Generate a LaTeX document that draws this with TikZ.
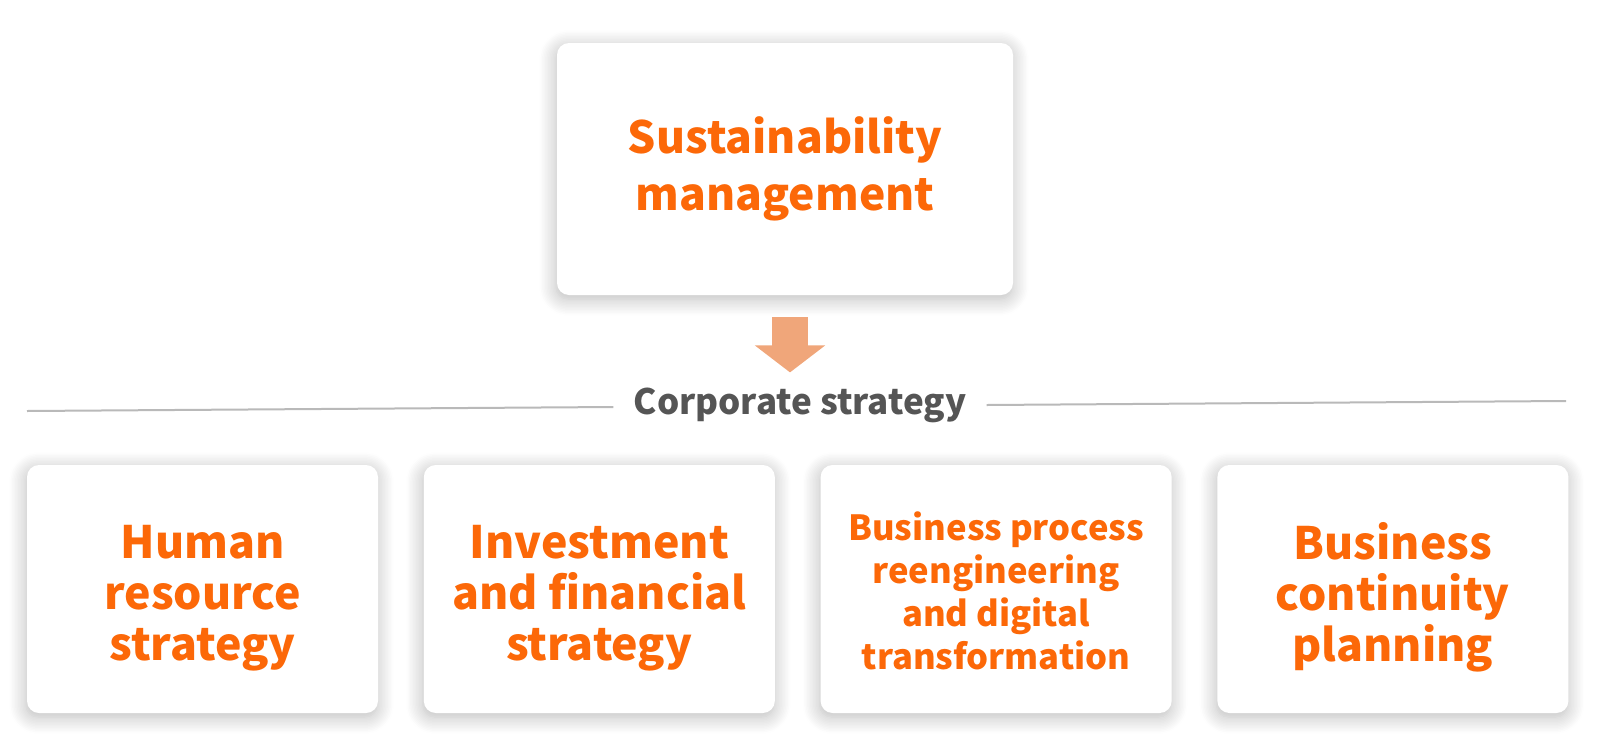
\documentclass[tikz,border=0pt]{standalone}
\usepackage{fontspec}
\setmainfont{Noto Sans CJK JP}
\usetikzlibrary{%
    arrows.meta,
    positioning,
    shadows.blur
}
\definecolor{brandorange}{RGB}{252,104,8}
\definecolor{arrowsalmon}{RGB}{240,166,122}
\definecolor{labelgray}{RGB}{85,85,85}
\definecolor{rulegray}{RGB}{185,185,185}
\tikzset{card/.style = {fill=white, rounded corners=6pt, inner sep=0pt,
                        blur shadow={shadow xshift=-0.5pt, shadow yshift=-2pt,
                                     shadow blur radius=8.5pt, shadow blur steps=12,
                                     shadow opacity=28}}}
\tikzset{smallcard/.style = {card, minimum width=175.5pt, minimum height=124pt}}
\tikzset{cardtext/.style = {align=center, inner sep=0pt, text=brandorange}}
\tikzset{flowarrow/.style = {arrowsalmon, line width=18pt, -{Triangle[width=34.5pt, length=13.5pt]}}}
\tikzset{rule/.style = {rulegray, line width=1pt}}

\begin{document}
\begin{tikzpicture}[x=0.5pt, y=-0.5pt]
    \useasboundingbox (0,0) rectangle (1600,734);
    \node (sm) [card, minimum width=228pt, minimum height=126pt,
                align=center, text=brandorange,
                font=\bfseries\fontsize{22.2}{28.5}\selectfont] at (785,169) {Sustainability\\management};
    \node (cs) [text=labelgray, inner xsep=10pt,
                font=\bfseries\fontsize{17.5}{20}\selectfont] at (800,405) {Corporate strategy};

    \node (hr)  [smallcard] at (202.5,589) {};
    \node (inv) [smallcard, right=22.5pt of hr] {};
    \node (bpr) [smallcard, right=22.5pt of inv] {};
    \node (bcp) [smallcard, right=22.5pt of bpr] {};

    \foreach \Card/\Shift/\Size/\Skip/\Text in {%
        hr/-4.5/22.3/25.5/{Human\\resource\\strategy},
        inv/-4.5/22.3/25.5/{Investment\\and financial\\strategy},
        bpr/-1/17.3/21.5/{Business process\\reengineering\\and digital\\transformation},
        bcp/-4/22.3/25.5/{Business\\continuity\\planning}%
    }
        \node (\Card-text) [cardtext, font=\bfseries\fontsize{\Size}{\Skip}\selectfont]
            at ([yshift=\Shift pt]\Card.center) {\Text};

    \coordinate (ruleL) at (27,411);
    \coordinate (ruleR) at (1566,401);
    \draw[rule] (ruleL) -- ([yshift=-1pt]cs.west);
    \draw[rule] (cs.east) -- (ruleR);
    \draw[flowarrow] ([xshift=2.5pt,yshift=-11pt]sm.south) -- ++(0,55);
\end{tikzpicture}
\end{document}
